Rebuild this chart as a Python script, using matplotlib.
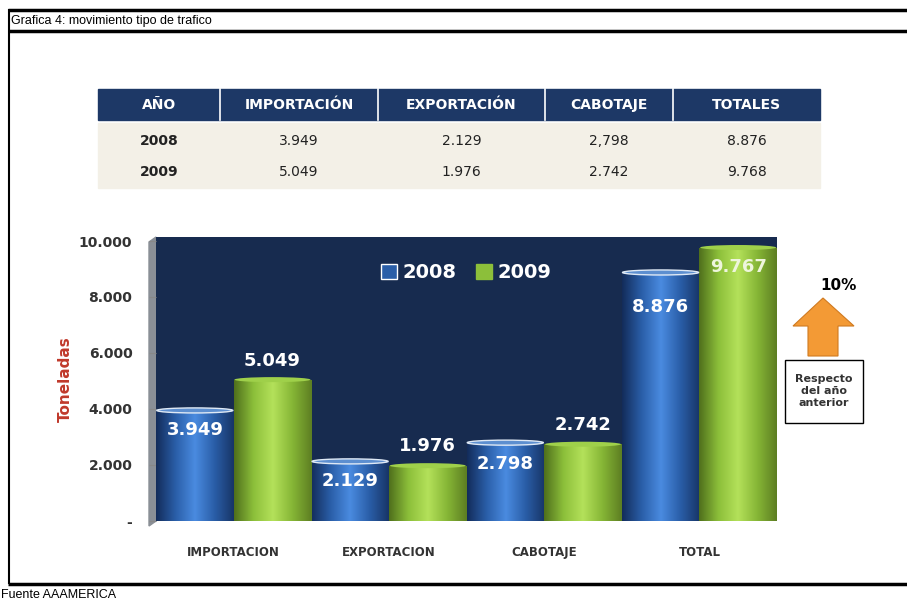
import matplotlib
matplotlib.use("Agg")
import matplotlib.pyplot as plt
import numpy as np
from matplotlib.patches import Rectangle, Ellipse, Polygon
from matplotlib.colors import LinearSegmentedColormap

# datos
categorias = ["IMPORTACION", "EXPORTACION", "CABOTAJE", "TOTAL"]
anios = ["2008", "2009"]
val_2008 = [3949, 2129, 2798, 8876]
val_2009 = [5049, 1976, 2742, 9767]
etq_2008 = ["3.949", "2.129", "2.798", "8.876"]
etq_2009 = ["5.049", "1.976", "2.742", "9.767"]
yticks = [0, 2000, 4000, 6000, 8000, 10000]
ytick_labels = ["-", "2.000", "4.000", "6.000", "8.000", "10.000"]

tabla_cols = ["AÑO", "IMPORTACIÓN", "EXPORTACIÓN", "CABOTAJE", "TOTALES"]
tabla_2008 = ["2008", "3.949", "2.129", "2,798", "8.876"]
tabla_2009 = ["2009", "5.049", "1.976", "2.742", "9.768"]

W, H = 907, 603
fig = plt.figure(figsize=(W / 100, H / 100), dpi=100)
fig.patch.set_facecolor("white")

# capa de fondo en pixeles
bg = fig.add_axes([0, 0, 1, 1])
bg.set_xlim(0, W)
bg.set_ylim(H, 0)
bg.axis("off")

# marco
for xs, ys, lw in (([8, W], [10, 10], 2.5), ([8, W], [31, 31], 2.5),
                   ([8, W], [584, 584], 2.5), ([8.5, 8.5], [9, 584], 1.5)):
    bg.plot(xs, ys, color="black", lw=lw, solid_capstyle="butt")
bg.text(11, 21, "Grafica 4: movimiento tipo de trafico", fontsize=9,
        family="Liberation Sans", va="center", ha="left")
bg.text(1, 595, "Fuente AAAMERICA", fontsize=9, family="Liberation Sans",
        va="center", ha="left")

# tabla
bordes = [98, 220, 378, 545, 673, 820]
bg.add_patch(Rectangle((98, 89), 722, 31, color="#1d3866", zorder=1))
bg.add_patch(Rectangle((98, 123), 722, 65, color="#f3f0e7", zorder=1))
for xb in bordes[1:-1]:
    bg.plot([xb, xb], [89, 120], color="white", lw=1.2, zorder=2)
for i, col in enumerate(tabla_cols):
    cx = (bordes[i] + bordes[i + 1]) / 2
    bg.text(cx, 105, col, color="white", fontsize=10, fontweight="bold",
            ha="center", va="center", zorder=3)
    for fila, yy in ((tabla_2008, 141), (tabla_2009, 172)):
        bold = "bold" if i == 0 else "normal"
        bg.text(cx, yy, fila[i], color="#222222", fontsize=10, fontweight=bold,
                ha="center", va="center", zorder=3)

# pared gris a la izquierda del grafico
bg.add_patch(Polygon([[149, 242], [156, 237], [156, 521], [149, 526]],
                     color="#8a8f96", zorder=1))

# grafico
top_px, bot_px = 237, 521
ax = fig.add_axes([156 / W, (H - bot_px) / H, 621 / W, (bot_px - top_px) / H])
ymax = 10000 * (bot_px - top_px) / (bot_px - 241)
ax.set_facecolor("#172b4f")

x = np.arange(len(categorias))
ancho = 0.5
cmap_az = LinearSegmentedColormap.from_list(
    "az", ["#132c5a", "#2a5ea8", "#4a8be0", "#2a5ea8", "#173567"])
cmap_vd = LinearSegmentedColormap.from_list(
    "vd", ["#4f6f1c", "#8cbf3a", "#b4e15a", "#86b636", "#5d7e22"])
grad = np.linspace(0, 1, 256).reshape(1, -1)

barras_08 = ax.bar(x - ancho / 2, val_2008, ancho, color="#2a5ea8", zorder=2)
barras_09 = ax.bar(x + ancho / 2, val_2009, ancho, color="#8cbf3a", zorder=2)

for barras, cmap, tapa in ((barras_08, cmap_az, "#5d8fd0"), (barras_09, cmap_vd, "#9fd04a")):
    for b in barras:
        x0, w, h = b.get_x(), b.get_width(), b.get_height()
        im = ax.imshow(grad, extent=[x0, x0 + w, 0, h], aspect="auto",
                       cmap=cmap, zorder=3)
        im.set_clip_path(b)
        ax.add_patch(Ellipse((x0 + w / 2, h), w * 0.98, 180, facecolor=tapa,
                             edgecolor="#dfe9f5" if cmap is cmap_az else "none",
                             lw=1.0, zorder=4))

# etiquetas de valores
off_08 = [-700, -700, -780, -1250]
for b, t, o in zip(barras_08, etq_2008, off_08):
    ax.text(b.get_x() + b.get_width() / 2, b.get_height() + o, t, color="white",
            fontsize=13, fontweight="bold", ha="center", va="center", zorder=5)
off_09 = [650, 700, 700, -700]
for b, t, o in zip(barras_09, etq_2009, off_09):
    ax.text(b.get_x() + b.get_width() / 2, b.get_height() + o, t,
            color="white" if o > 0 else "#eef5dc",
            fontsize=13, fontweight="bold", ha="center", va="center", zorder=5)

ax.set_xlim(-0.5, len(categorias) - 0.5)
ax.set_ylim(0, ymax)
ax.set_yticks(yticks)
ax.set_yticklabels(ytick_labels, fontsize=10, fontweight="bold", color="#333333")
ax.set_xticks(x)
ax.set_xticklabels(categorias, fontsize=8.5, fontweight="bold", color="#333333")
ax.tick_params(axis="x", length=0, pad=18)
ax.tick_params(axis="y", length=5, color="#888888", pad=12)
for s in ax.spines.values():
    s.set_visible(False)
ax.set_ylabel("Toneladas", color="#c0392b", fontsize=11, fontweight="bold", labelpad=4)

# leyenda
leg = ax.legend([Rectangle((0, 0), 1, 1, fc="#2a5ea8", ec="white"),
                 Rectangle((0, 0), 1, 1, fc="#8cbf3a", ec="#8cbf3a")], anios,
                loc="upper center", bbox_to_anchor=(0.5, 0.97), ncol=2,
                frameon=False, fontsize=14, handlelength=0.8, handleheight=0.8,
                handletextpad=0.3, columnspacing=1.0)
for t in leg.get_texts():
    t.set_color("white")
    t.set_fontweight("bold")

# flecha y nota a la derecha
bg.text(838, 285, "10%", fontsize=11, fontweight="bold", ha="center", va="center")
bg.add_patch(Polygon([[823, 298], [854, 326], [838, 326], [838, 356],
                      [808, 356], [808, 326], [793, 326]],
                     facecolor="#f39a35", edgecolor="#d07a20", lw=0.8, zorder=3))
bg.add_patch(Rectangle((785, 360), 78, 63, facecolor="white", edgecolor="black",
                       lw=1.0, zorder=3))
bg.text(824, 391, "Respecto\ndel año\nanterior", fontsize=8, fontweight="bold",
        color="#333333", ha="center", va="center", linespacing=1.3, zorder=4)

fig.savefig("out.png", dpi=100)
